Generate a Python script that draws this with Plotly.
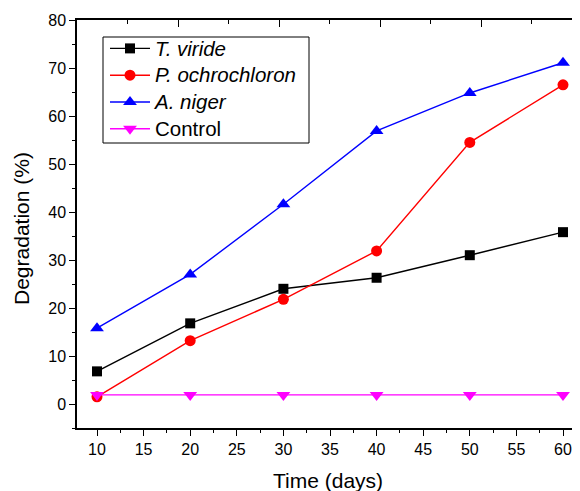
import plotly.graph_objects as go

days = [10, 20, 30, 40, 50, 60]
t_viride = [6.8, 16.8, 24.0, 26.3, 31.0, 35.8]
p_ochro = [1.5, 13.2, 21.8, 31.9, 54.5, 66.5]
a_niger = [15.8, 27.0, 41.6, 56.9, 64.8, 71.1]
control = [1.9, 1.9, 1.9, 1.9, 1.9, 1.9]

series_names = ["<i>T. viride</i>", "<i>P. ochrochloron</i>", "<i>A. niger</i>", "Control"]
series_vals = [t_viride, p_ochro, a_niger, control]
colors = ["#000000", "#FF0000", "#0000FF", "#FF00FF"]
symbols = ["square", "circle", "triangle-up", "triangle-down"]
sizes = [10, 11, 12, 12]

FONT = "Liberation Sans, Arial, sans-serif"

fig = go.Figure()
for name, vals, c, s, sz in zip(series_names, series_vals, colors, symbols, sizes):
    fig.add_trace(go.Scatter(
        x=days, y=vals, name='<span style="font-size:20.5px">' + name + "</span>",
        mode="lines+markers",
        line=dict(color=c, width=1.4),
        marker=dict(symbol=s, size=sz, color=c),
    ))

# helper trace to activate the top/right frame axes
fig.add_trace(go.Scatter(x=[0], y=[0], xaxis="x2", yaxis="y2", mode="markers",
                         marker=dict(opacity=0), showlegend=False, hoverinfo="skip"))

# page body has an 8px margin: figure spans 8..580 x 8..491 of the window
OFF = 8
W, H = 580 - OFF, 491 - OFF
L, T = 77 - OFF, 20 - OFF
R = 0
B = H - (428 - OFF)
pw = W - L - R
ph = H - T - B
# x: 10 -> 97px, 60 -> 563px (window coords)
ppu = (563 - 97) / 50.0
xmin = 10 - (97 - 77) / ppu
xmax = xmin + pw / ppu

def px(xw):
    return (xw - 77) / pw

def py(yw):
    return (428 - yw) / ph

fig.update_layout(
    width=W, height=H,
    margin=dict(l=L, r=R, t=T, b=B),
    paper_bgcolor="white", plot_bgcolor="white",
    font=dict(family=FONT, color="black", size=16),
    showlegend=True,
    legend=dict(
        x=px(105), y=py(30), xanchor="left", yanchor="top",
        borderwidth=0, bgcolor="rgba(0,0,0,0)",
        font=dict(family=FONT, size=18.3, color="black"),
        tracegroupgap=0, itemwidth=40,
    ),
    shapes=[
        dict(type="rect", xref="paper", yref="paper", layer="below",
             x0=px(103), x1=px(309), y0=py(143), y1=py(37),
             line=dict(color="black", width=1), fillcolor="white"),
    ],
    xaxis=dict(
        range=[xmin, xmax], tickvals=[10, 15, 20, 25, 30, 35, 40, 45, 50, 55, 60],
        ticks="outside", ticklen=6, tickwidth=1.3, tickcolor="black",
        minor=dict(tickvals=[12.5, 17.5, 22.5, 27.5, 32.5, 37.5, 42.5, 47.5, 52.5, 57.5],
                   ticks="outside", ticklen=3, tickwidth=1.3, tickcolor="black"),
        showline=True, linecolor="black", linewidth=1.5,
        showgrid=False, zeroline=False,
        tickfont=dict(size=16),
    ),
    xaxis2=dict(
        overlaying="x", side="top", range=[0, pw / 50.5],
        tick0=0, dtick=2, ticks="inside", ticklen=7, tickwidth=1.3, tickcolor="black",
        minor=dict(dtick=1, ticks="inside", ticklen=4, tickwidth=1.3, tickcolor="black"),
        showline=True, linecolor="black", linewidth=1.5,
        showticklabels=False, showgrid=False, zeroline=False,
    ),
    yaxis=dict(
        range=[-5, 80], tickvals=[0, 10, 20, 30, 40, 50, 60, 70, 80],
        ticks="outside", ticklen=6, tickwidth=1.3, tickcolor="black",
        minor=dict(tickvals=[-5, 5, 15, 25, 35, 45, 55, 65, 75],
                   ticks="outside", ticklen=3, tickwidth=1.3, tickcolor="black"),
        showline=True, linecolor="black", linewidth=1.5,
        showgrid=False, zeroline=False,
        tickfont=dict(size=16),
    ),
    yaxis2=dict(
        overlaying="y", side="right", range=[0, 10],
        tick0=0, dtick=2, ticks="inside", ticklen=8, tickwidth=1.3, tickcolor="black",
        minor=dict(dtick=1, ticks="inside", ticklen=4, tickwidth=1.3, tickcolor="black"),
        showline=False, showticklabels=False, showgrid=False, zeroline=False,
    ),
    annotations=[
        dict(text="Time (days)", xref="paper", yref="paper",
             x=px(328), y=py(480), xanchor="center", yanchor="middle",
             showarrow=False, font=dict(family=FONT, size=21)),
        dict(text="Degradation (%)", xref="paper", yref="paper",
             x=px(22), y=py(229), xanchor="center", yanchor="middle",
             textangle=-90, showarrow=False, font=dict(family=FONT, size=21)),
    ],
)

fig.write_html("out.html")
